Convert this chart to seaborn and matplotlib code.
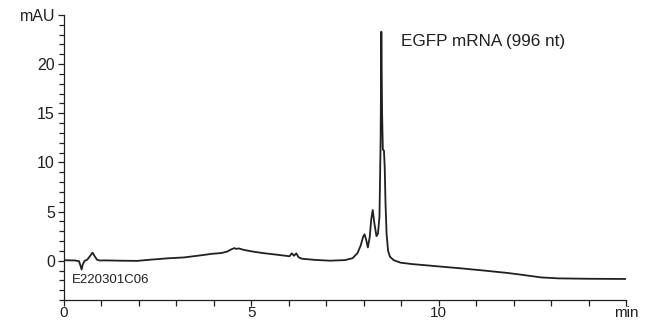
import matplotlib
matplotlib.use("Agg")
import matplotlib.pyplot as plt
from matplotlib.ticker import MultipleLocator, FixedLocator, FixedFormatter
import seaborn as sns
import pandas as pd

# Retention time (min) and UV absorbance (mAU) of the chromatogram trace
time_min = [
    0.00, 0.30, 0.40, 0.44, 0.47, 0.50, 0.55, 0.62, 0.70, 0.76, 0.82, 0.88,
    0.95, 1.10, 1.50, 1.95, 2.30, 2.80, 3.20, 3.60, 3.95, 4.20, 4.35, 4.48,
    4.55, 4.60, 4.66, 4.80, 5.00, 5.30, 5.70, 6.02, 6.08, 6.14, 6.20, 6.26,
    6.35, 6.70, 7.10, 7.50, 7.70, 7.83, 7.92, 7.98, 8.02, 8.06, 8.11, 8.16,
    8.20, 8.24, 8.28, 8.34, 8.38, 8.42, 8.45, 8.47, 8.49, 8.51, 8.54, 8.56,
    8.58, 8.61, 8.65, 8.70, 8.80, 8.98, 9.30, 9.70, 10.05, 10.60, 11.20,
    11.84, 12.19, 12.50, 12.73, 13.20, 14.00, 15.00,
]
absorbance_mau = [
    0.05, 0.02, -0.05, -0.50, -0.90, -0.40, -0.02, 0.10, 0.50, 0.82, 0.45,
    0.10, 0.02, 0.03, 0.00, -0.02, 0.10, 0.25, 0.33, 0.52, 0.70, 0.78, 0.92,
    1.18, 1.28, 1.20, 1.25, 1.10, 0.95, 0.78, 0.60, 0.45, 0.75, 0.50, 0.75,
    0.35, 0.20, 0.08, 0.00, 0.06, 0.25, 0.75, 1.55, 2.40, 2.69, 2.20, 1.35,
    2.40, 4.20, 5.16, 3.90, 2.50, 2.75, 4.50, 12.0, 23.3, 15.0, 11.3, 11.2,
    9.5, 6.0, 2.7, 1.0, 0.40, 0.05, -0.20, -0.35, -0.48, -0.60, -0.78,
    -1.00, -1.25, -1.42, -1.58, -1.70, -1.80, -1.84, -1.86,
]

# Axis ticks and labels
x_major = [0, 5, 10, 15]
x_labels = ["0", "5", "10", "min"]
y_major = [0, 5, 10, 15, 20, 25]
y_labels = ["0", "5", "10", "15", "20", "mAU"]

sns.set_style("ticks")
plt.rcParams["font.family"] = ["Liberation Sans", "DejaVu Sans"]

ink = "#231f20"
df = pd.DataFrame({"time": time_min, "mAU": absorbance_mau})

fig = plt.figure(figsize=(6.46, 3.20), dpi=100)
ax = fig.add_axes([64 / 646, 20 / 320, 562 / 646, 285 / 320])

sns.lineplot(data=df, x="time", y="mAU", ax=ax, color=ink, linewidth=1.3,
             sort=False, estimator=None)

ax.set_xlim(0, 15)
ax.set_ylim(-4, 25)
ax.set_xlabel("")
ax.set_ylabel("")

ax.xaxis.set_major_locator(FixedLocator(x_major))
ax.xaxis.set_major_formatter(FixedFormatter(x_labels))
ax.xaxis.set_minor_locator(MultipleLocator(1))
ax.yaxis.set_major_locator(FixedLocator(y_major))
ax.yaxis.set_major_formatter(FixedFormatter(y_labels))
ax.yaxis.set_minor_locator(MultipleLocator(1))

ax.tick_params(axis="y", which="major", direction="out", length=4.5,
               width=0.9, color=ink, labelcolor=ink, labelsize=11.5, pad=2)
ax.tick_params(axis="y", which="minor", direction="out", length=3.5,
               width=0.9, color=ink)
ax.tick_params(axis="x", which="both", direction="out", length=4.0,
               width=0.9, color=ink, labelcolor=ink, labelsize=11.0, pad=0.5)

for side in ("top", "right"):
    ax.spines[side].set_visible(False)
for side in ("left", "bottom"):
    ax.spines[side].set_color(ink)
    ax.spines[side].set_linewidth(0.9)

ax.text(0.22, -2.0, "E220301C06", fontsize=9.5, color=ink,
        ha="left", va="center")
ax.text(9.0, 22.3, "EGFP mRNA (996 nt)", fontsize=12.3, color=ink,
        ha="left", va="center")

fig.savefig("out.png", dpi=100)
